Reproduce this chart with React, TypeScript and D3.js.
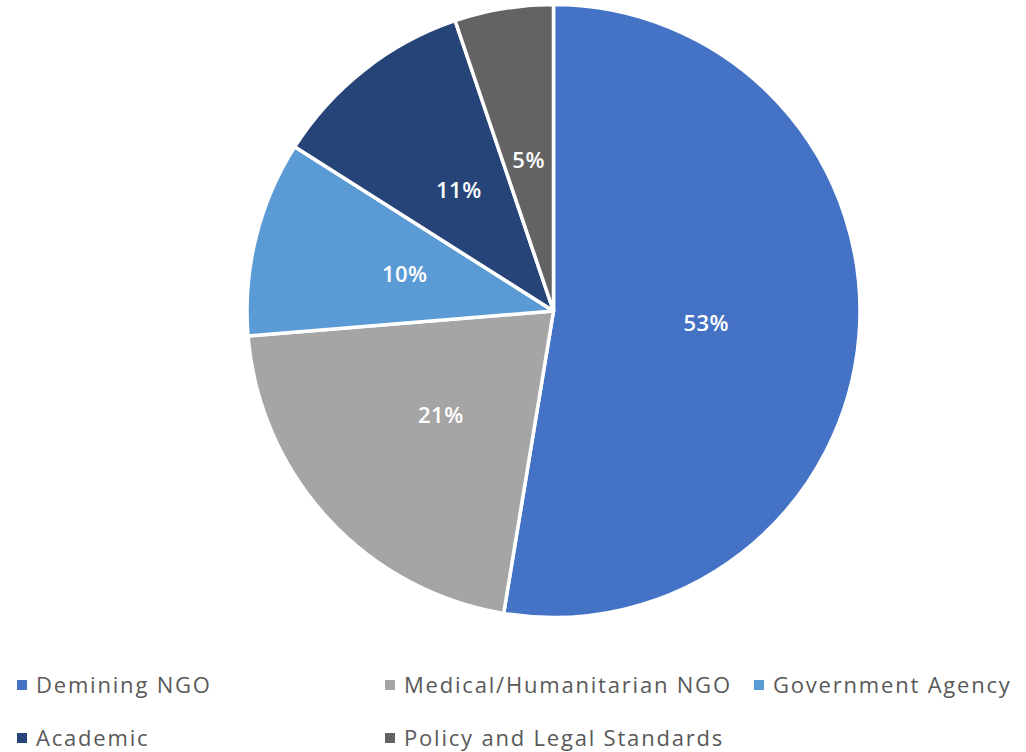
import React from "react";
import * as d3 from "d3";

const categories = [
  "Demining NGO",
  "Medical/Humanitarian NGO",
  "Government Agency",
  "Academic",
  "Policy and Legal Standards",
];
const values = [52.6, 21.1, 10.3, 10.8, 5.2];
const colors = ["#4472C4", "#A5A5A5", "#5B9BD5", "#264478", "#636363"];

const W = 1026;
const H = 752;
const CX = 553.5;
const CY = 311;
const R = 306.5;

export default function App() {
  const data = categories.map((c, i) => ({ name: c, value: values[i], color: colors[i] }));
  const pie = d3
    .pie<any>()
    .sort(null)
    .value((d) => d.value);
  const arcs = pie(data);
  const arc = d3.arc<any>().innerRadius(0).outerRadius(R);
  const legendCols = [17, 385, 754];
  const legendRows = [685, 738];
  return (
    <svg
      width={W}
      height={H}
      style={{ position: "absolute", left: 0, top: 0, background: "#fff" }}
    >
      <g transform={`translate(${CX},${CY})`}>
        {arcs.map((a, i) => (
          <path key={i} d={arc(a) as string} fill={a.data.color} stroke="#fff" strokeWidth={3.5} strokeLinejoin="round" />
        ))}
        {arcs.map((a, i) => {
          const [x, y] = arc.centroid(a);
          return (
            <text
              key={"l" + i}
              x={x}
              y={y}
              dy="0.35em"
              textAnchor="middle"
              fill="#fff"
              fontFamily="'Open Sans', 'Noto Sans', sans-serif"
              fontWeight={600}
              fontSize={22}
              letterSpacing={0.5}
            >
              {Math.round(a.data.value)}%
            </text>
          );
        })}
      </g>
      {data.map((d, i) => {
        const col = i % 3;
        const row = Math.floor(i / 3);
        const x = legendCols[col];
        const y = legendRows[row];
        return (
          <g key={"g" + i}>
            <rect x={x} y={y - 5} width={10} height={10} fill={d.color} />
            <text
              x={x + 19}
              y={y}
              dy="0.35em"
              fill="#595959"
              fontFamily="'Open Sans', 'Noto Sans', sans-serif"
              fontSize={22}
              letterSpacing={1.8}
            >
              {d.name}
            </text>
          </g>
        );
      })}
    </svg>
  );
}
